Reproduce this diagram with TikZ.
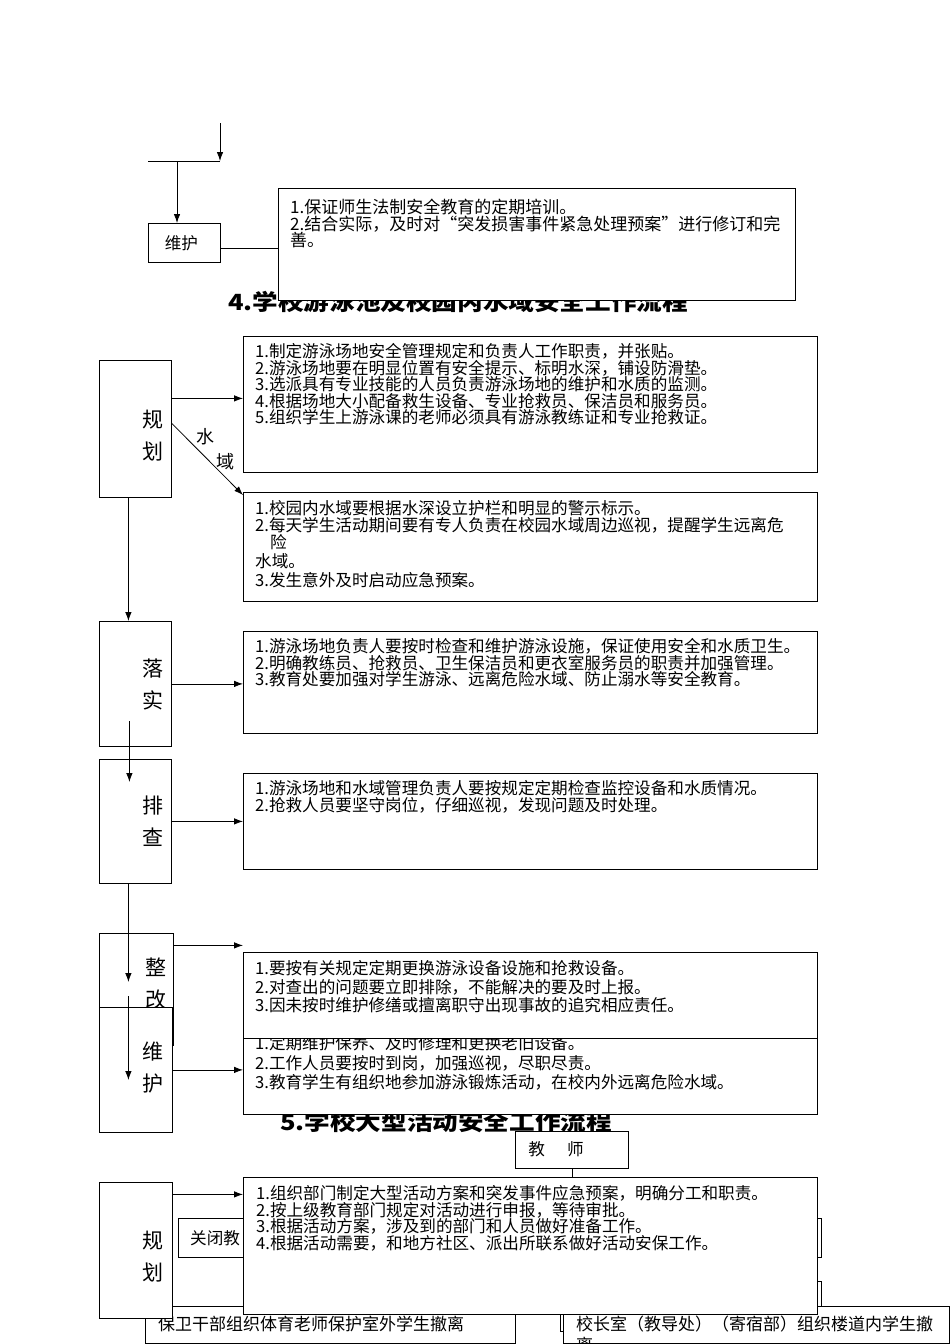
\documentclass[tikz,border=0pt]{standalone}
\usepackage{fontspec}
\setmainfont{Noto Sans CJK SC}
\usepackage{tikz}
\usetikzlibrary{positioning, arrows.meta}

\tikzset{
  frame/.style={draw, fill=white, line width=0.8pt, inner sep=0pt, anchor=north west},
  rules/.style={anchor=north west, inner sep=0pt, align=left, font=\fontsize{16.6}{16.5}\selectfont},
  side/.style={inner sep=0pt, align=center, font=\fontsize{21}{32}\selectfont},
  ttl/.style={anchor=west, inner sep=0pt, font=\fontsize{25.6}{26}\selectfont\bfseries},
  link/.style={-{Latex[length=9pt,width=6.5pt]}, line width=0.8pt},
  plain/.style={line width=0.8pt},
  tag/.style={inner sep=0pt, font=\fontsize{18}{18}\selectfont}
}

\begin{document}
\begin{tikzpicture}[x=1pt,y=-1pt]
\useasboundingbox (0,0) rectangle (950,1344);

% end of part 3
\coordinate (in0) at (220,123);
\coordinate (j0) at (220,161);
\coordinate (j1) at (148,161);
\coordinate (j2) at (177,161);
\node[frame, minimum width=72, minimum height=39] (keep0) at (148,223) {};
\node[font=\fontsize{16.6}{17}\selectfont] (keep0-t) at ([xshift=-3]keep0.center) {维护};
\draw[link] (in0) -- (j0);
\draw[plain] (j1) -- (j0);
\draw[link] (j2) -- (j2 |- keep0.north);
\node[ttl] (title4) at (228,302) {\scalebox{1}[0.87]{4.学校游泳池及校园内水域安全工作流程}};
\node[frame, minimum width=517, minimum height=112] (tb0) at (278,188) {};
\draw[plain] ([yshift=-5.5]keep0.east) -- ([yshift=-5.5]keep0.east -| tb0.west);
\node[rules, font=\fontsize{17}{16.5}\selectfont] (tb0-t) at (290,199) {1.保证师生法制安全教育的定期培训。\\2.结合实际，及时对“突发损害事件紧急处理预案”进行修订和完\\善。};

% part 4
\node[frame, minimum width=72, minimum height=137] (plan4) at (99,360) {};
\node[side] (plan4-t) at (153,436) {规\\划};
\node[frame, minimum width=574, minimum height=136] (tb1) at (243,336) {};
\node[rules] (tb1-t) at (255,343.5) {1.制定游泳场地安全管理规定和负责人工作职责，并张贴。\\2.游泳场地要在明显位置有安全提示、标明水深，铺设防滑垫。\\3.选派具有专业技能的人员负责游泳场地的维护和水质的监测。\\4.根据场地大小配备救生设备、专业抢救员、保洁员和服务员。\\5.组织学生上游泳课的老师必须具有游泳教练证和专业抢救证。};
\node[frame, minimum width=574, minimum height=109] (tb2) at (243,492) {};
\node[rules, font=\fontsize{16.6}{15}\selectfont] (tb2-t) at (255,500.5) {1.校园内水域要根据水深设立护栏和明显的警示标示。\\2.每天学生活动期间要有专人负责在校园水域周边巡视，提醒学生远离危\\\hspace{15pt}险\\[3pt]水域。\\[3pt]3.发生意外及时启动应急预案。};
\draw[link] ([yshift=30.5]plan4.east) -- ([yshift=30.5]plan4.east -| tb1.west);
\draw[link] ([yshift=5.5]plan4.east) -- node[tag, pos=0.47, yshift=20pt] (lb-a) {水} node[tag, pos=0.76, yshift=16pt] (lb-b) {域} ([yshift=-3]tb2.north west);

\node[frame, minimum width=72, minimum height=125] (do4) at (99,621) {};
\node[side] (do4-t) at (153,684.5) {落\\实};
\draw[link] ([xshift=-7]plan4.south) -- ([xshift=-7]plan4.south |- do4.north);
\node[frame, minimum width=574, minimum height=102] (tb3) at (243,631) {};
\node[rules] (tb3-t) at (255,638.5) {1.游泳场地负责人要按时检查和维护游泳设施，保证使用安全和水质卫生。\\2.明确教练员、抢救员、卫生保洁员和更衣室服务员的职责并加强管理。\\3.教育处要加强对学生游泳、远离危险水域、防止溺水等安全教育。};
\draw[link] (do4.east) -- (do4.east -| tb3.west);

\node[frame, minimum width=72, minimum height=124] (check4) at (99,759) {};
\node[side] (check4-t) at (153,821) {排\\查};
\draw[link] ([xshift=-6,yshift=-37.5]do4.center) -- ([xshift=-6,yshift=-23]check4.north);
\node[frame, minimum width=574, minimum height=96] (tb4) at (243,773) {};
\node[rules] (tb4-t) at (255,780.5) {1.游泳场地和水域管理负责人要按规定定期检查监控设备和水质情况。\\2.抢救人员要坚守岗位，仔细巡视，发现问题及时处理。};
\draw[link] (check4.east) -- (check4.east -| tb4.west);

\node[frame, minimum width=74, minimum height=112] (fix4) at (99,933) {};
\node[side] (fix4-t) at (156,984) {整\\改};
\draw[link] ([xshift=-7]check4.south) -- ([xshift=-8,yshift=-49]fix4.north);
\node[frame, minimum width=73, minimum height=125] (keep4) at (99,1007) {};
\node[side] (keep4-t) at (153,1068) {维\\护};
\draw[link] ([xshift=-7.5,yshift=11]keep4.north) -- ([xshift=-7.5,yshift=-73]keep4.north);
\node[ttl] (title5) at (280,1122) {\scalebox{1}[0.87]{5.学校大型活动安全工作流程}};
\node[frame, minimum width=574, minimum height=86] (tb6) at (243,1028) {};
\node[rules, font=\fontsize{16.6}{19.5}\selectfont] (tb6-t) at (255,1035.5) {1.定期维护保养、及时修理和更换老旧设备。\\2.工作人员要按时到岗，加强巡视，尽职尽责。\\3.教育学生有组织地参加游泳锻炼活动，在校内外远离危险水域。};
\node[frame, minimum width=574, minimum height=86] (tb5) at (243,952) {};
\node[rules, font=\fontsize{16.6}{18.5}\selectfont] (tb5-t) at (255,960.5) {1.要按有关规定定期更换游泳设备设施和抢救设备。\\2.对查出的问题要立即排除，不能解决的要及时上报。\\3.因未按时维护修缮或擅离职守出现事故的追究相应责任。};
\draw[link] ([yshift=44]fix4.east) -- ([yshift=44]fix4.east -| tb5.west);
\draw[link] (keep4.east) -- (keep4.east -| tb6.west);

% part 5
\node[frame, minimum width=113, minimum height=37] (teach) at (515,1131) {};
\node[font=\fontsize{16.6}{17}\selectfont] (teach-t) at (556,1149.5) {教\hspace{22pt}师};
\node[frame, minimum width=322, minimum height=39] (shut) at (178,1218) {};
\node[anchor=west, inner sep=0pt, font=\fontsize{16.6}{17}\selectfont] (shut-t) at (190,1238) {关闭教};
\node[frame, minimum width=261, minimum height=39] (side5a) at (560,1218) {};
\node[frame, minimum width=261, minimum height=50] (side5b) at (560,1281) {};
\node[frame, minimum width=370, minimum height=37] (out5) at (145,1306) {};
\node[anchor=west, inner sep=0pt, font=\fontsize{17}{17}\selectfont] (out5-t) at (158,1324) {保卫干部组织体育老师保护室外学生撤离};
\node[frame, minimum width=386, minimum height=37] (hall5) at (563,1306) {};
\node[rules, font=\fontsize{17}{21}\selectfont] (hall5-t) at (576,1315.5) {校长室（教导处）（寄宿部）组织楼道内学生撤\\离};
\node[frame, minimum width=73, minimum height=136] (plan5) at (99,1182) {};
\node[side] (plan5-t) at (153,1256.5) {规\\划};
\node[frame, minimum width=574, minimum height=137] (tb7) at (243,1177) {};
\node[rules] (tb7-t) at (256,1185.5) {1.组织部门制定大型活动方案和突发事件应急预案，明确分工和职责。\\2.按上级教育部门规定对活动进行申报，等待审批。\\3.根据活动方案，涉及到的部门和人员做好准备工作。\\4.根据活动需要，和地方社区、派出所联系做好活动安保工作。};
\draw[plain] (teach.south) -- (teach.south |- tb7.north);
\draw[link] ([yshift=56]plan5.east) -- ([yshift=56]plan5.east -| tb7.west);
\end{tikzpicture}
\end{document}
